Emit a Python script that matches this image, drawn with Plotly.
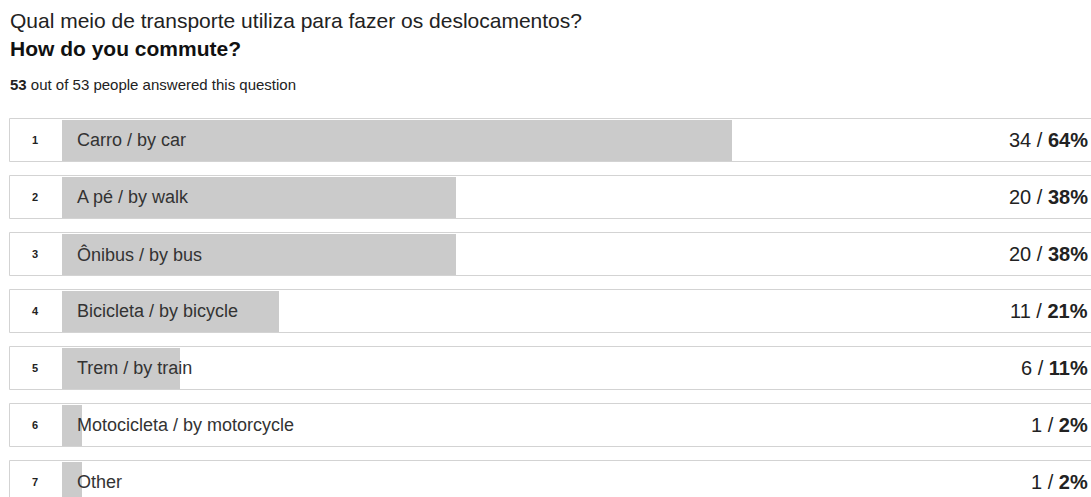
import plotly.graph_objects as go

categories = ["Carro / by car", "A pé / by walk", "Ônibus / by bus", "Bicicleta / by bicycle",
              "Trem / by train", "Motocicleta / by motorcycle", "Other"]
counts = [34, 20, 20, 11, 6, 1, 1]
total = 53
answered = 53
title_pt = "Qual meio de transporte utiliza para fazer os deslocamentos?"
title_en = "How do you commute?"

W, H = 1091, 497
FONT = "Liberation Sans, Arial, sans-serif"
ys = list(range(len(categories)))
pct = [round(c / total * 100) for c in counts]

px_per = 19.7
x0px = 62
xr = [-x0px / px_per, (W - x0px) / px_per]
row0, pitch = 140, 57
yr = [(H - row0) / pitch, -row0 / pitch]

fig = go.Figure()

shapes = []
half = 43 / 2 / pitch
for i in ys:
    shapes.append(dict(type="rect", xref="paper", yref="y", x0=9.5 / W, x1=1.02,
                       y0=i - half, y1=i + half, line=dict(color="#d3d3d3", width=1),
                       fillcolor="white", layer="below"))

fig.add_trace(go.Bar(y=ys, x=counts, base=0, orientation="h", width=41 / pitch,
                     marker=dict(color="#cbcbcb", line=dict(width=0)),
                     hoverinfo="skip", showlegend=False))

ann = []
for i, (cat, c, p) in enumerate(zip(categories, counts, pct)):
    ann.append(dict(xref="paper", yref="y", x=35 / W, y=i, text=f"<b>{i + 1}</b>",
                    showarrow=False, xanchor="center", yanchor="middle",
                    font=dict(family=FONT, size=11, color="#222")))
    ann.append(dict(xref="paper", yref="y", x=75 / W, y=i, text=cat,
                    showarrow=False, xanchor="left", yanchor="middle",
                    font=dict(family=FONT, size=18, color="#333")))
    ann.append(dict(xref="paper", yref="y", x=1090 / W, y=i, text=f"{c} / <b>{p}%</b>",
                    showarrow=False, xanchor="right", yanchor="middle",
                    font=dict(family=FONT, size=20, color="#222")))

ann.append(dict(xref="paper", yref="paper", x=8 / W, y=1 - 20 / H, text=title_pt,
                showarrow=False, xanchor="left", yanchor="middle",
                font=dict(family=FONT, size=21, color="#222")))
ann.append(dict(xref="paper", yref="paper", x=8 / W, y=1 - 49 / H, text=f"<b>{title_en}</b>",
                showarrow=False, xanchor="left", yanchor="middle",
                font=dict(family=FONT, size=21, color="#111")))
ann.append(dict(xref="paper", yref="paper", x=8 / W, y=1 - 84 / H,
                text=f"<b>{answered}</b> out of {total} people answered this question",
                showarrow=False, xanchor="left", yanchor="middle",
                font=dict(family=FONT, size=15, color="#222")))

fig.update_layout(
    width=W, height=H, margin=dict(l=0, r=0, t=0, b=0),
    paper_bgcolor="white", plot_bgcolor="white",
    xaxis=dict(range=xr, visible=False, fixedrange=True),
    yaxis=dict(range=yr, visible=False, fixedrange=True),
    shapes=shapes, annotations=ann, bargap=0,
)
fig.write_html("out.html")
